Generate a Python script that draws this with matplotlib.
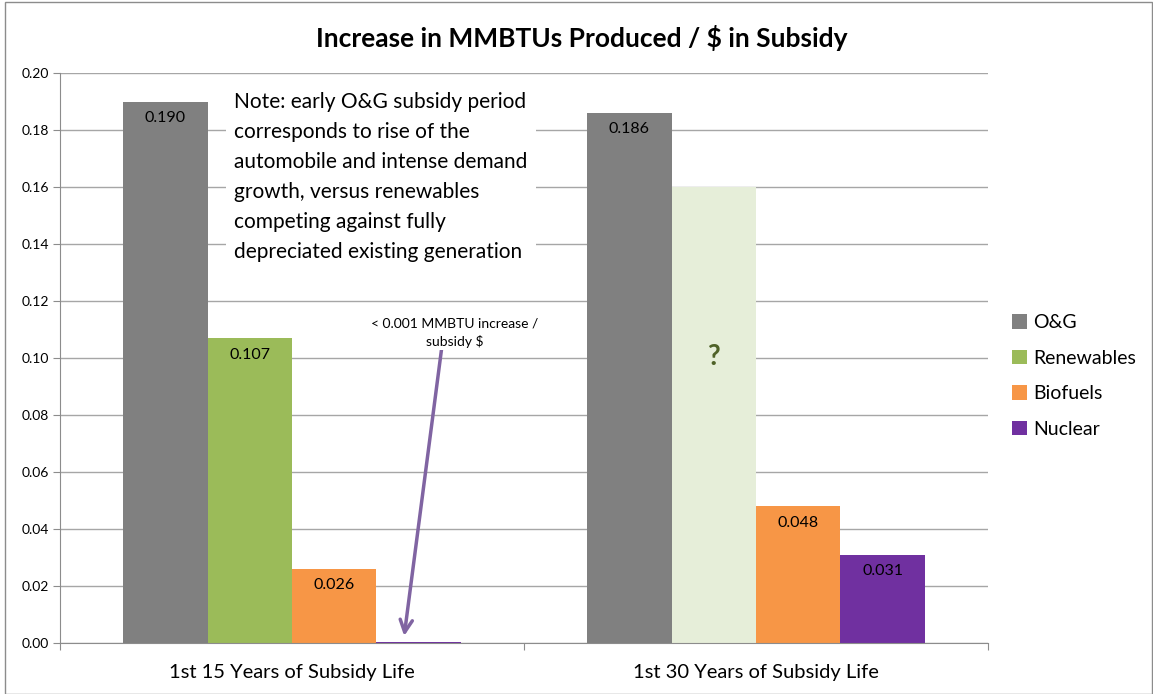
import matplotlib
matplotlib.use("Agg")
import matplotlib.pyplot as plt
import numpy as np
from matplotlib.patches import Rectangle

plt.rcParams['font.family'] = ['Lato', 'DejaVu Sans']

categories = ["1st 15 Years of Subsidy Life", "1st 30 Years of Subsidy Life"]
series = ["O&G", "Renewables", "Biofuels", "Nuclear"]
og = [0.190, 0.186]
renewables = [0.107, 0.160]
biofuels = [0.026, 0.048]
nuclear = [0.0005, 0.031]
labels = [["0.190", "0.186"], ["0.107", "?"], ["0.026", "0.048"], ["", "0.031"]]
yticks = [0.00, 0.02, 0.04, 0.06, 0.08, 0.10, 0.12, 0.14, 0.16, 0.18, 0.20]

colors = ["#808080", "#9BBB59", "#F79646", "#7030A0"]
renew2_color = "#E6EED9"

fig = plt.figure(figsize=(11.53, 6.94), dpi=100)
fig.patches.append(Rectangle((0.004, 0.0), 0.995, 0.997, transform=fig.transFigure,
                             fill=False, edgecolor="#8c8c8c", linewidth=1.0))
ax = fig.add_axes([60/1153, 1-643/694, 928/1153, 570/694])

x = np.arange(len(categories))
w = 0.182
vals = [og, renewables, biofuels, nuclear]
for i, (name, v) in enumerate(zip(series, vals)):
    pos = x + (i - 1.5) * w
    cols = [colors[i]] * len(v)
    if name == "Renewables":
        cols = [colors[i], renew2_color]
    bars = ax.bar(pos, v, width=w, color=cols, label=name, zorder=2)
    for j, b in enumerate(bars):
        lab = labels[i][j]
        if lab == "?":
            ax.text(b.get_x() + w/2, 0.1005, "?", ha="center", va="center",
                    fontsize=20, fontweight="bold", color="#4F6228", zorder=3)
        elif lab:
            ax.text(b.get_x() + w/2, v[j] - 0.0058, lab, ha="center", va="center",
                    fontsize=11.5, color="black", zorder=3)

ax.set_xlim(-0.5, 1.5)
ax.set_ylim(0, 0.20)
ax.set_yticks(yticks)
ax.set_yticklabels([f"{t:.2f}" for t in yticks], fontsize=10)
ax.yaxis.grid(True, color="#a6a6a6", linewidth=1.0, zorder=0)
ax.set_axisbelow(True)
for s in ["top", "right"]:
    ax.spines[s].set_visible(False)
ax.spines["left"].set_color("#8c8c8c")
ax.spines["bottom"].set_color("#8c8c8c")
ax.tick_params(axis="y", length=5, color="#8c8c8c", pad=3)
ax.set_xticks([-0.5, 0.5, 1.5])
ax.set_xticklabels([])
ax.tick_params(axis="x", length=5, color="#8c8c8c")
for xi, c in zip(x, categories):
    ax.text(xi, -0.0105, c, ha="center", va="center", fontsize=14.5,
            transform=ax.transData, clip_on=False)

fig.text(582/1153, 1-38/694, "Increase in MMBTUs Produced / $ in Subsidy",
         fontsize=19, fontweight="bold", ha="center", va="center")

note = ("Note: early O&G subsidy period\ncorresponds to rise of the\n"
        "automobile and intense demand\ngrowth, versus renewables\n"
        "competing against fully\ndepreciated existing generation")
ax.text(-0.125, 0.1932, note, ha="left", va="top", fontsize=15,
        linespacing=1.62, zorder=4,
        bbox=dict(facecolor="white", edgecolor="none", pad=6))

ax.annotate("", xy=(0.241, 0.0015), xytext=(0.323, 0.104),
            arrowprops=dict(arrowstyle="->", color="#8064A2", lw=2.5,
                            mutation_scale=22), zorder=4)
ax.text(0.35, 0.1087, "< 0.001 MMBTU increase /\nsubsidy $", ha="center",
        va="center", fontsize=10, linespacing=1.5, zorder=4,
        bbox=dict(facecolor="white", edgecolor="none", pad=1))

leg = fig.legend(loc="center left", bbox_to_anchor=(1012/1153, 1-376/694),
                 frameon=False, fontsize=14, handlelength=0.75,
                 handleheight=0.75, labelspacing=0.95, handletextpad=0.35,
                 borderpad=0, borderaxespad=0)

fig.savefig("out.png", dpi=100)
